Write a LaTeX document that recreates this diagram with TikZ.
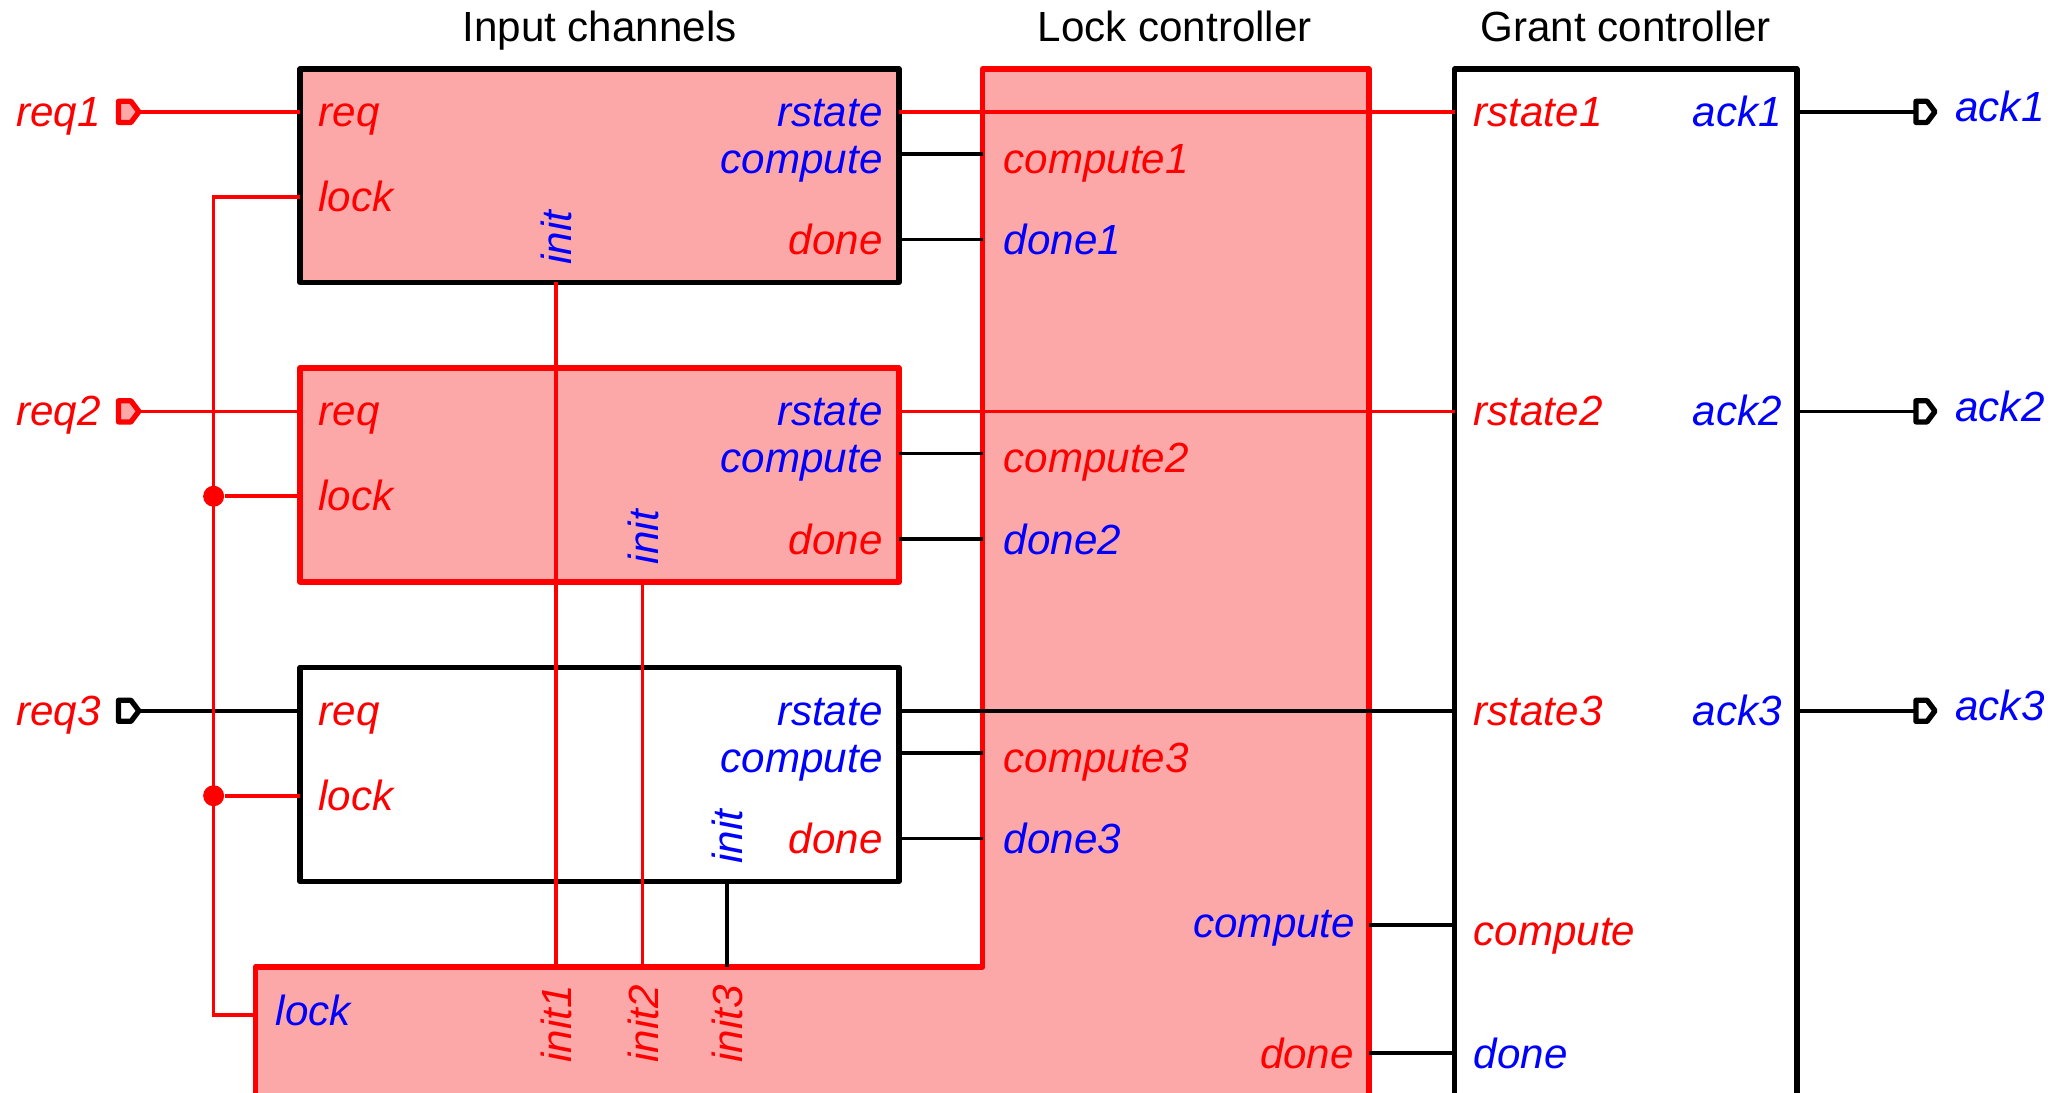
\documentclass[tikz,border=0pt]{standalone}
\usepackage{fontspec}
\setmainfont{Liberation Sans}
\definecolor{lockpink}{RGB}{252,168,168}

\tikzset{
  lbl/.style={font=\fontsize{12}{14}\selectfont\itshape, inner sep=0pt},
  redlbl/.style={lbl, text=red},
  bluelbl/.style={lbl, text=blue},
  title/.style={font=\fontsize{12}{14}\selectfont, inner sep=0pt},
  wire/.style={line width=1.05pt},
  block/.style={line width=1.55pt, line join=round},
  port/.style={line width=1.5pt, line join=round},
  joint/.style={circle, fill=red, inner sep=0pt, minimum size=0.21cm},
}

\begin{document}
\begin{tikzpicture}[x=0.013163cm, y=-0.013163cm]
		\useasboundingbox (0,0) rectangle (1568,830);
		\clip (0,0) rectangle (1568,830);

		% titles
		\node[title, anchor=base] (t-in) at (455.5,31.5) {Input channels};
		\node[title, anchor=base] (t-lock) at (892.5,31.5) {Lock controller};
		\node[title, anchor=base] (t-grant) at (1235,31.5) {Grant controller};

		% lock controller (L shape) and grant controller
		\draw[block, red, fill=lockpink] (746.5,52.5) -- (1040,52.5) -- (1040,850) -- (194,850)
			-- (194,734.5) -- (746.5,734.5) -- cycle;
		\draw[block, fill=white] (1105,52.5) rectangle (1365,850);

		% input channels
		\draw[block, fill=lockpink] (228,52.5) rectangle (683,214.5);
		\draw[block, red, fill=lockpink] (228,279.5) rectangle (683,442);
		\draw[block, fill=white] (228,507) rectangle (683,669.5);

		% pins of the channels, the lock controller and the grant controller
		\foreach \i/\t/\x in {1/52/422.2, 2/279.5/488, 3/507/552.4} {
			\coordinate (ch\i-req) at (228,\t+33);
			\coordinate (ch\i-lock) at (228,\t+97.5);
			\coordinate (ch\i-rstate) at (683,\t+33);
			\coordinate (ch\i-compute) at (683,\t+65);
			\coordinate (ch\i-done) at (683,\t+130);
			\coordinate (ch\i-init) at (\x,\t+162.5);
			\coordinate (lc-init\i) at (\x,734.5);
			\coordinate (lc-compute\i) at (746.5,\t+65);
			\coordinate (lc-done\i) at (746.5,\t+130);
			\coordinate (gc-rstate\i) at (1105,\t+33);
			\coordinate (gc-ack\i) at (1365,\t+33);
		}
		\coordinate (lc-lock) at (194,771);
		\coordinate (lc-compute) at (1040,702.5);
		\coordinate (lc-done) at (1040,800);
		\coordinate (gc-compute) at (1105,702.5);
		\coordinate (gc-done) at (1105,800);

		% input ports
		\foreach \i/\y/\c/\f in {1/85/red/lockpink, 2/312.5/red/lockpink, 3/540/black/white} {
			\draw[port, draw=\c, fill=\f] (90,\y-8) -- (99.5,\y-8) -- (105.5,\y) -- (99.5,\y+8) -- (90,\y+8) -- cycle;
			\coordinate (req\i) at (105.5,\y);
			\node[redlbl, anchor=base east] (req\i-name) at (77,\y+11) {req\i};
		}
		% output ports
		\foreach \i/\y in {1/85, 2/312.5, 3/540} {
			\draw[port, fill=white] (1455.5,\y-8) -- (1464,\y-8) -- (1470,\y) -- (1464,\y+8) -- (1455.5,\y+8) -- cycle;
			\coordinate (ack\i) at (1455.5,\y);
			\node[bluelbl, anchor=base west] (ack\i-name) at (1485,\y+7.5) {ack\i};
		}

		% request wires
		\draw[wire, red] (req1) -- (ch1-req);
		\draw[wire, red] (req2) -- (ch2-req);
		\draw[wire] (req3) -- (ch3-req);

		% rstate wires
		\draw[wire, red] (ch1-rstate) -- (gc-rstate1);
		\draw[wire, red] (ch2-rstate) -- (gc-rstate2);
		\draw[wire] (ch3-rstate) -- (gc-rstate3);

		% compute, done and ack wires
		\foreach \i in {1,2,3} {
			\draw[wire] (ch\i-compute) -- (lc-compute\i);
			\draw[wire] (ch\i-done) -- (lc-done\i);
			\draw[wire] (gc-ack\i) -- (ack\i);
		}
		\draw[wire] (lc-compute) -- (gc-compute);
		\draw[wire] (lc-done) -- (gc-done);

		% init wires
		\draw[wire, red] (ch1-init) -- (lc-init1);
		\draw[wire, red] (ch2-init) -- (lc-init2);
		\draw[wire] (ch3-init) -- (lc-init3);

		% lock bus
		\coordinate (bus-top) at (162.3,149.5);
		\coordinate (bus-bot) at (162.3,771);
		\node[joint] (j2) at (162.3,377) {};
		\node[joint] (j3) at (162.3,604.5) {};
		\draw[wire, red] (ch1-lock) -- (bus-top) -- (bus-bot) -- (lc-lock);
		\draw[wire, red] (j2) -- (ch2-lock);
		\draw[wire, red] (j3) -- (ch3-lock);

		% pin names
		\foreach \i/\t/\x in {1/52/422.2, 2/279.5/488, 3/507/552.4} {
			\node[redlbl, anchor=base west] (ch\i-reqname) at (241.5,\t+44) {req};
			\node[redlbl, anchor=base west] (ch\i-lockname) at (241.5,\t+108.5) {lock};
			\node[bluelbl, anchor=base east] (ch\i-rstatename) at (671,\t+44) {rstate};
			\node[bluelbl, anchor=base east] (ch\i-computename) at (671,\t+79.5) {compute};
			\node[redlbl, anchor=base east] (ch\i-donename) at (671,\t+141.5) {done};
			\node[bluelbl, rotate=90, anchor=base west] (ch\i-initname) at (\x+12,\t+149.5) {init};
			\node[redlbl, anchor=base west] (lc-compute\i-name) at (762,\t+79.5) {compute\i};
			\node[bluelbl, anchor=base west] (lc-done\i-name) at (762,\t+141.5) {done\i};
			\node[redlbl, rotate=90, anchor=base east] (lc-init\i-name) at (\x+12,748) {init\i};
			\node[redlbl, anchor=base west] (gc-rstate\i-name) at (1119,\t+44) {rstate\i};
			\node[bluelbl, anchor=base east] (gc-ack\i-name) at (1354,\t+44) {ack\i};
		}
		\node[bluelbl, anchor=base west] (lc-lock-name) at (209,779) {lock};
		\node[bluelbl, anchor=base east] (lc-compute-name) at (1030,712) {compute};
		\node[redlbl, anchor=base east] (lc-done-name) at (1029,811.5) {done};
		\node[redlbl, anchor=base west] (gc-compute-name) at (1119,718) {compute};
		\node[bluelbl, anchor=base west] (gc-done-name) at (1119,811.5) {done};
	\end{tikzpicture}
\end{document}
